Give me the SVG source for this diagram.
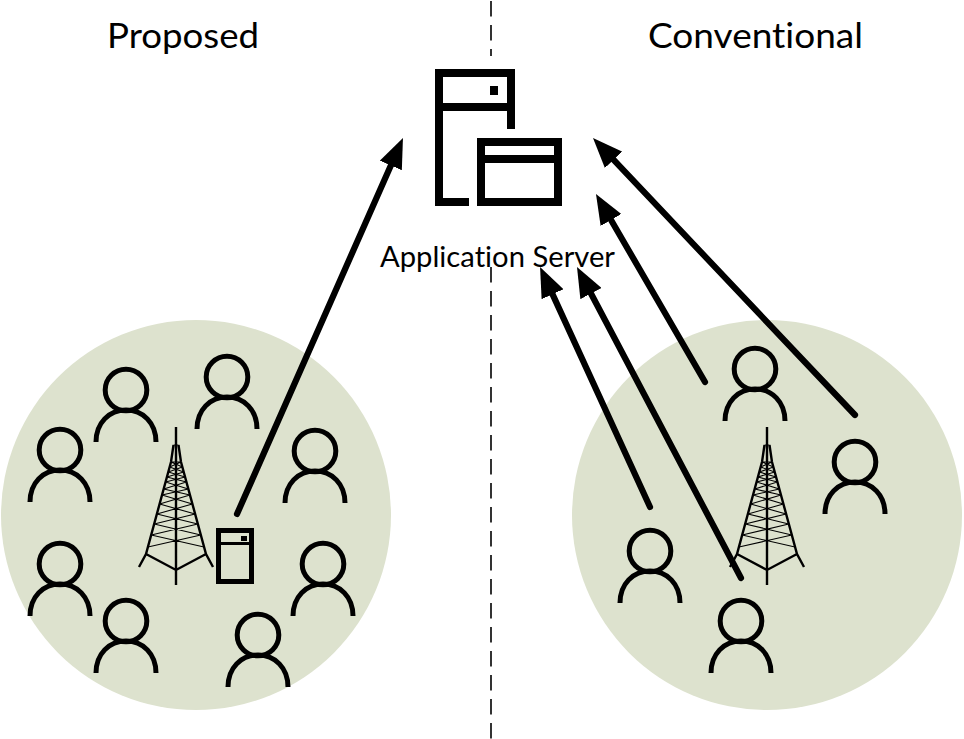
<svg xmlns="http://www.w3.org/2000/svg" xmlns:xlink="http://www.w3.org/1999/xlink" width="964" height="739" viewBox="0 0 964 739">
<style>
text{font-family:Lato,"Open Sans",sans-serif;fill:#000;font-variant-ligatures:none}
.cell{fill:#dde2ce}
.icon{fill:none;stroke:#000;stroke-width:8}
.p{fill:none;stroke:#000;stroke-width:5}
.a{stroke:#000;stroke-width:6.2;stroke-linecap:round;fill:none;marker-end:url(#h)}
.t{fill:none;stroke:#000;stroke-width:1.1}
.tb{fill:none;stroke:#000;stroke-width:2.4}
.d{stroke:#000;stroke-width:1.6;stroke-dasharray:15.500 8.500}
</style>
<defs>
<marker id="h" markerUnits="userSpaceOnUse" viewBox="0 0 30 24" refX="15" refY="12" markerWidth="30" markerHeight="24" orient="auto"><path d="M0 0L30 12L0 24Z" fill="#000"/></marker>
<g id="person"><circle cx="0" cy="0" r="20.800"/><path d="M-30 52C-30 33-17 20 0 20S30 33 30 52"/></g>
<g id="tower">
<path class="tb" d="M0 0V158M-2.500 18L-5 35L-30 127L-37 140M2.500 18L5 35L30 127L37 140M-30 127L0 143L30 127"/>
<path class="t" d="M-2.500 18H2.500M-5 35H5M-5 35L6.400 40M5 35L-6.400 40M-6.400 40L7.700 45M6.400 40L-7.700 45M-7.700 45L9.100 50M7.700 45L-9.100 50M-9.100 50L10.400 55M9.100 50L-10.400 55M-10.400 55L12.300 62M10.400 55L-12.300 62M-12.300 62L14 68M12.300 62L-14 68M-14 68L16.400 77M14 68L-16.400 77M-16.400 77L19.100 87M16.400 77L-19.100 87M-19.100 87L21.800 97M19.100 87L-21.800 97M-21.800 97L24.800 108M21.800 97L-24.800 108M-24.800 108L28 120M24.800 108L-28 120"/>
</g>
</defs>
<g id="divider"><line class="d" x1="491" y1="1" x2="491" y2="56"/><line class="d" x1="491" y1="267" x2="491" y2="739"/></g>
<g id="cell-left"><circle class="cell" cx="196" cy="515" r="195"/></g>
<g id="cell-right"><circle class="cell" cx="767" cy="515" r="195"/></g>
<g id="tower-left"><use xlink:href="#tower" href="#tower" x="176" y="427"/></g>
<g id="tower-right"><use xlink:href="#tower" href="#tower" x="767" y="427"/></g>
<g id="edge-server"><rect x="218.500" y="530.500" width="33" height="51" fill="none" stroke="#000" stroke-width="5"/><path d="M218 543.500H252" stroke="#000" stroke-width="3"/><rect x="241" y="536" width="6" height="5"/></g>
<g id="server"><path class="icon" d="M469 202H439V73H511V129M439 107H511"/><rect x="490" y="86" width="8" height="9"/><rect class="icon" x="481" y="142" width="77" height="60"/><path class="icon" d="M481 159H558"/></g>
<g id="p1" class="p"><use xlink:href="#person" href="#person" x="60" y="450"/></g>
<g id="p2" class="p"><use xlink:href="#person" href="#person" x="126" y="390"/></g>
<g id="p3" class="p"><use xlink:href="#person" href="#person" x="227" y="377"/></g>
<g id="p4" class="p"><use xlink:href="#person" href="#person" x="315" y="451"/></g>
<g id="p5" class="p"><use xlink:href="#person" href="#person" x="60" y="564"/></g>
<g id="p6" class="p"><use xlink:href="#person" href="#person" x="323" y="564"/></g>
<g id="p7" class="p"><use xlink:href="#person" href="#person" x="126" y="621"/></g>
<g id="p8" class="p"><use xlink:href="#person" href="#person" x="258" y="635"/></g>
<g id="p9" class="p"><use xlink:href="#person" href="#person" x="755" y="369"/></g>
<g id="p10" class="p"><use xlink:href="#person" href="#person" x="855" y="462"/></g>
<g id="p11" class="p"><use xlink:href="#person" href="#person" x="650" y="551"/></g>
<g id="p12" class="p"><use xlink:href="#person" href="#person" x="741" y="621"/></g>
<g id="connectors">
<line class="a" x1="237" y1="514" x2="396.900" y2="151.700"/>
<line class="a" x1="855" y1="415" x2="603.300" y2="148.900"/>
<line class="a" x1="705" y1="382" x2="603.500" y2="207"/>
<line class="a" x1="650" y1="507" x2="546.300" y2="280.600"/>
<line class="a" x1="741" y1="578" x2="584" y2="280.300"/>
</g>
<text x="107" y="48" font-size="35" textLength="152" lengthAdjust="spacingAndGlyphs">Proposed</text>
<text x="648" y="48" font-size="35" textLength="215" lengthAdjust="spacingAndGlyphs">Conventional</text>
<text x="380" y="267" font-size="29" textLength="235" lengthAdjust="spacingAndGlyphs">Application Server</text>
</svg>
